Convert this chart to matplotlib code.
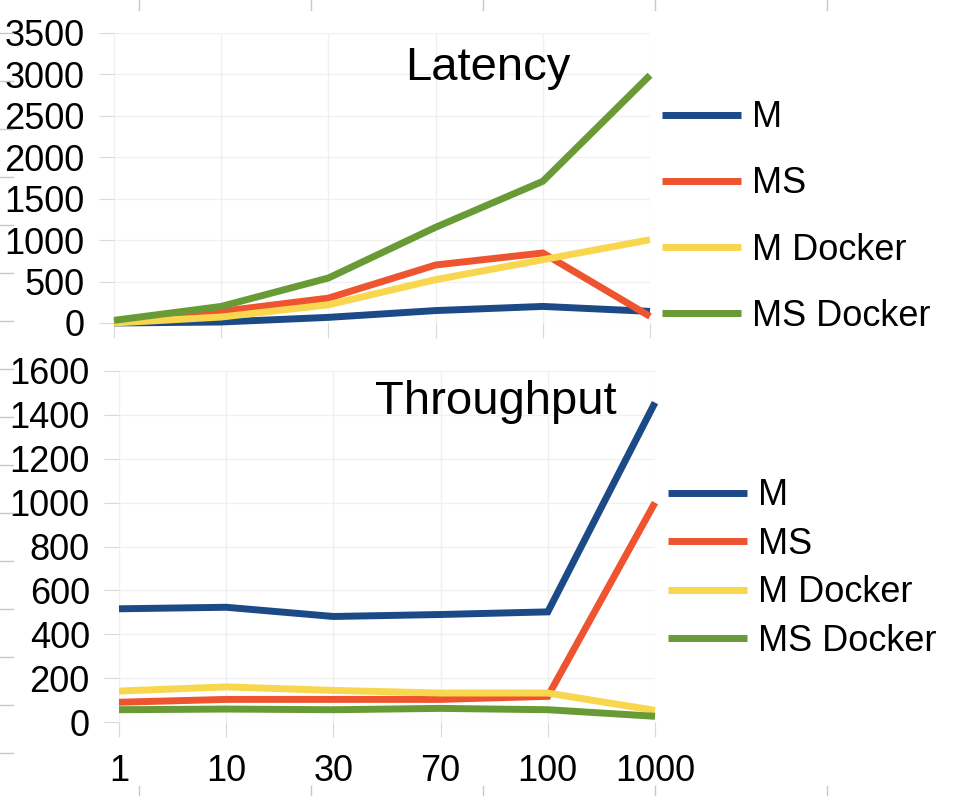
import matplotlib
matplotlib.use("Agg")
import matplotlib.pyplot as plt
from matplotlib.lines import Line2D

plt.rcParams['font.family'] = ['Liberation Sans', 'DejaVu Sans']

# data
categories = ['1', '10', '30', '70', '100', '1000']
series = ['M', 'MS', 'M Docker', 'MS Docker']
colors = ['#1b4a87', '#ee5430', '#f8d64e', '#689b35']

latency_m = [0, 12, 68, 150, 200, 140]
latency_ms = [5, 140, 300, 700, 845, 80]
latency_m_docker = [0, 72, 220, 523, 764, 1005]
latency_ms_docker = [32, 200, 543, 1155, 1710, 2990]

throughput_m = [516, 523, 481, 490, 502, 1456]
throughput_ms = [90, 103, 103, 103, 117, 1000]
throughput_m_docker = [141, 160, 144, 132, 132, 53]
throughput_ms_docker = [56, 59, 56, 62, 56, 26]

W, H = 962, 796
fig = plt.figure(figsize=(W / 100, H / 100), dpi=100)

ax1 = fig.add_axes([114 / W, 1 - 323 / H, 536 / W, 290 / H])
ax2 = fig.add_axes([119 / W, 1 - 722 / H, 536 / W, 351 / H])

x = list(range(len(categories)))


def style(ax, ymax, step, show_x):
    for s in ax.spines.values():
        s.set_visible(False)
    ax.set_xlim(0, len(categories) - 1)
    ax.set_ylim(0, ymax)
    ax.set_yticks(range(0, ymax + 1, step))
    ax.set_xticks(x)
    ax.grid(True, color='#f0f0f0', linewidth=1)
    ax.set_axisbelow(True)
    ax.tick_params(axis='y', length=11, color='#d9d9d9', labelsize=26, pad=10)
    ax.tick_params(axis='x', length=11, color='#d9d9d9', labelsize=26, pad=12)
    if show_x:
        ax.set_xticklabels(categories)
    else:
        ax.set_xticklabels([])


top_data = [latency_m, latency_ms, latency_m_docker, latency_ms_docker]
bot_data = [throughput_m, throughput_ms, throughput_m_docker, throughput_ms_docker]

for name, vals, c in zip(series, top_data, colors):
    ax1.plot(x, vals, color=c, lw=5, label=name, clip_on=False,
             solid_capstyle='butt', solid_joinstyle='miter')
for name, vals, c in zip(series, bot_data, colors):
    ax2.plot(x, vals, color=c, lw=5, label=name, clip_on=False,
             solid_capstyle='butt', solid_joinstyle='miter')

style(ax1, 3500, 500, False)
style(ax2, 1600, 200, True)

ax1.text(0.698, 0.879, 'Latency', transform=ax1.transAxes, fontsize=34,
         ha='center', va='center')
ax2.text(0.703, 0.912, 'Throughput', transform=ax2.transAxes, fontsize=34,
         ha='center', va='center')

fig.legend(*ax1.get_legend_handles_labels(), loc='center left',
           bbox_to_anchor=(662 / W, 1 - 217 / H), frameon=False,
           fontsize=26, handlelength=2.2, handletextpad=0.3,
           labelspacing=0.86, borderpad=0, borderaxespad=0)
fig.legend(*ax2.get_legend_handles_labels(), loc='center left',
           bbox_to_anchor=(668 / W, 1 - 568.5 / H), frameon=False,
           fontsize=26, handlelength=2.2, handletextpad=0.3,
           labelspacing=0.37, borderpad=0, borderaxespad=0)

# faint sheet cell marks around the edges
edge = '#c8c8c8'
for k in range(16):
    yy = 1 - (33 + 48 * k) / H
    fig.add_artist(Line2D([0, 13 / W], [yy, yy], color=edge, lw=1))
for k in range(5):
    xx = (139 + 172 * k) / W
    fig.add_artist(Line2D([xx, xx], [1, 1 - 10 / H], color=edge, lw=1))
    fig.add_artist(Line2D([xx, xx], [0, 10 / H], color=edge, lw=1))

fig.savefig('out.png', dpi=100, facecolor='white')
